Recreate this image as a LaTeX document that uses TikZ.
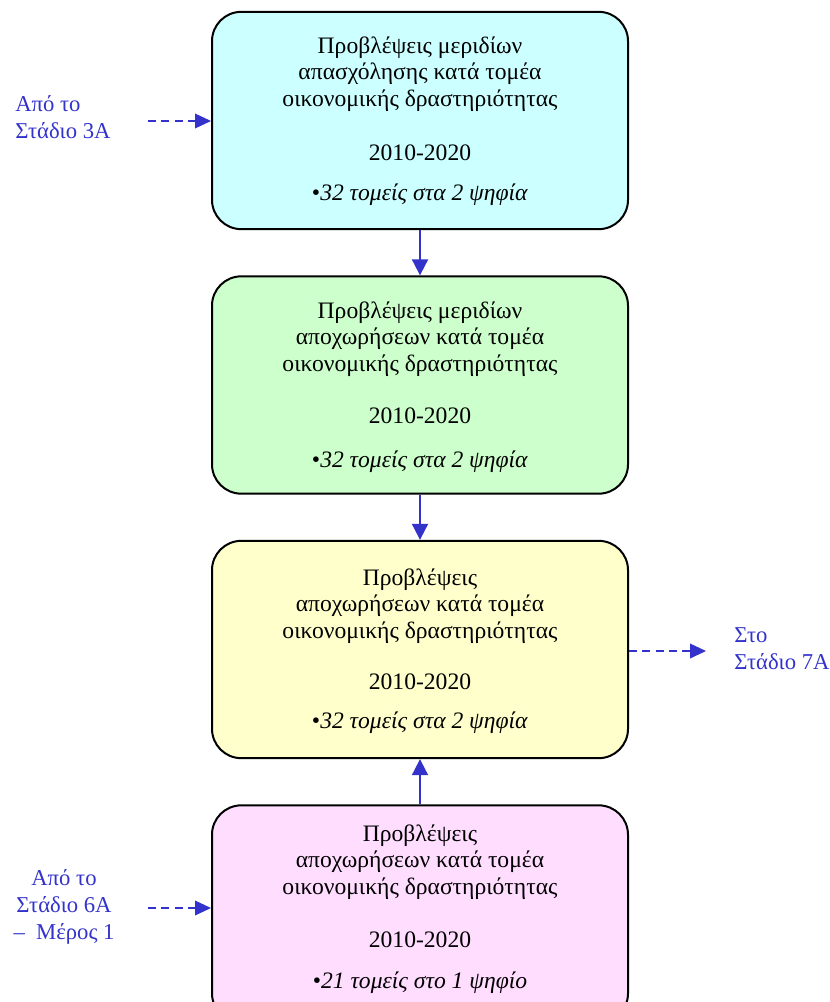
\documentclass[tikz,border=0pt]{standalone}
\usepackage{fontspec}
\setmainfont{Liberation Serif}
\usetikzlibrary{arrows.meta}
\definecolor{bcyan}{HTML}{CCFFFF}
\definecolor{bgreen}{HTML}{CCFFCC}
\definecolor{byellow}{HTML}{FFFFCC}
\definecolor{bpink}{HTML}{FFDDFF}
\definecolor{lblue}{HTML}{3333CC}
\begin{document}
\begin{tikzpicture}[x=0.75pt,y=-0.75pt,
  stagebox/.style={draw=black,line width=1.5pt,rounded corners=22pt,minimum width=312pt,minimum height=163pt,inner sep=0pt},
  txt/.style={font=\fontsize{17.7}{19.7}\selectfont,align=center,inner sep=0pt},
  lbl/.style={font=\fontsize{17}{20}\selectfont,text=lblue,inner sep=0pt},
  flow/.style={draw=lblue,line width=1.5pt,-{Triangle[length=12pt,width=12pt]}},
  dflow/.style={draw=lblue,line width=1.2pt,dash pattern=on 6pt off 4pt,-{Triangle[length=12pt,width=11pt]}}]
\useasboundingbox (0,0) rectangle (830,1002);
\node[stagebox,fill=bcyan] (b1) at (420,120.5) {};
\node[stagebox,fill=bgreen] (b2) at (420,385) {};
\node[stagebox,fill=byellow] (b3) at (420,649.5) {};
\node[stagebox,fill=bpink] (b4) at (420,914) {};
% texts box1
\node[txt] (t1) at (420,74) {Προβλέψεις μεριδίων\\απασχόλησης κατά τομέα\\οικονομικής δραστηριότητας};
\node[txt] (y1) at (420,153) {2010-2020};
\node[txt] (s1) at (420,195) {\textbullet\textit{32 τομείς στα 2 ψηφία}};
% box2
\node[txt] (t2) at (420,339) {Προβλέψεις μεριδίων\\αποχωρήσεων κατά τομέα\\οικονομικής δραστηριότητας};
\node[txt] (y2) at (420,416) {2010-2020};
\node[txt] (s2) at (420,462) {\textbullet\textit{32 τομείς στα 2 ψηφία}};
% box3
\node[txt] (t3) at (420,606) {Προβλέψεις\\αποχωρήσεων κατά τομέα\\οικονομικής δραστηριότητας};
\node[txt] (y3) at (420,682) {2010-2020};
\node[txt] (s3) at (420,723) {\textbullet\textit{32 τομείς στα 2 ψηφία}};
% box4
\node[txt] (t4) at (420,862) {Προβλέψεις\\αποχωρήσεων κατά τομέα\\οικονομικής δραστηριότητας};
\node[txt] (y4) at (420,940) {2010-2020};
\node[txt] (s4) at (420,983) {\textbullet\textit{21 τομείς στο 1 ψηφίο}};
% labels
\node[lbl,align=left,anchor=west] (l1) at (15,117) {Από το\\Στάδιο 3Α};
\node[lbl,align=left,anchor=west] (r3) at (734,649) {Στο\\Στάδιο 7Α};
\node[lbl,align=center] (l4) at (64,907) {Από το\\Στάδιο 6Α\\–\ \ Μέρος 1};
\coordinate (c1) at (148,121);
\coordinate (c3) at (706,651);
\coordinate (c4) at (148,908);
% connectors
\draw[flow] (b1.south) -- (b2.north);
\draw[flow] (b2.south) -- (b3.north);
\draw[flow] (b4.north) -- (b3.south);
\draw[dflow] (c1) -- (c1 -| b1.west);
\draw[dflow] (c4) -- (c4 -| b4.west);
\draw[dflow] (c3 -| b3.east) -- (c3);
\end{tikzpicture}
\end{document}
